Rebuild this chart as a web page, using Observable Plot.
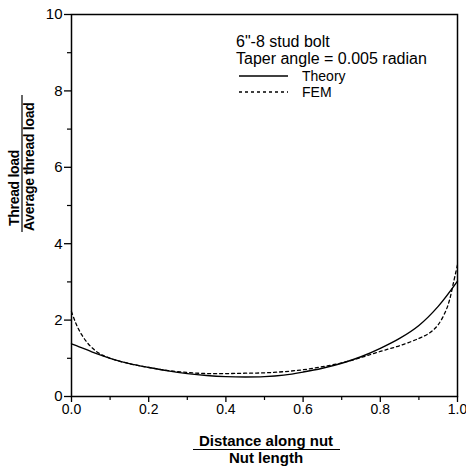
<!DOCTYPE html>
<html><head><meta charset="utf-8">
<script src="https://cdn.jsdelivr.net/npm/d3@7"></script>
<script src="https://cdn.jsdelivr.net/npm/@observablehq/plot@0.6"></script>
<style>body{margin:0;background:#fff}</style>
</head><body><div id="chart"></div>
<script>
// Data
const theoryX = [0, 0.02, 0.05, 0.1, 0.15, 0.2, 0.25, 0.3, 0.35, 0.4, 0.45, 0.5, 0.55, 0.6, 0.65, 0.7, 0.75, 0.8, 0.85, 0.9, 0.95, 1.0];
const theoryY = [1.38, 1.30, 1.18, 1.0, 0.86, 0.76, 0.67, 0.60, 0.55, 0.52, 0.51, 0.52, 0.56, 0.64, 0.74, 0.87, 1.04, 1.26, 1.52, 1.86, 2.36, 3.02];
const femX = [0, 0.01, 0.02, 0.04, 0.067, 0.1, 0.15, 0.2, 0.25, 0.3, 0.35, 0.4, 0.45, 0.5, 0.55, 0.6, 0.65, 0.7, 0.75, 0.8, 0.85, 0.9, 0.93, 0.95, 0.97, 0.98, 0.99, 1.0];
const femY = [2.22, 1.95, 1.73, 1.42, 1.16, 1.0, 0.86, 0.76, 0.68, 0.63, 0.60, 0.60, 0.61, 0.62, 0.65, 0.70, 0.78, 0.88, 1.02, 1.18, 1.33, 1.52, 1.68, 1.88, 2.25, 2.55, 3.0, 3.45];
const xMajor = [0, 0.2, 0.4, 0.6, 0.8, 1.0];
const xMinor = [0.1, 0.3, 0.5, 0.7, 0.9];
const yMajor = [0, 2, 4, 6, 8, 10];
const yMinor = [1, 3, 5, 7, 9];
const legendLines = ['6"-8 stud bolt', 'Taper angle = 0.005 radian'];
const seriesNames = ["Theory", "FEM"];

const theory = theoryX.map((x, i) => ({x, y: theoryY[i]}));
const fem = femX.map((x, i) => ({x, y: femY[i]}));

const FONT = "'Liberation Sans', Arial, Helvetica, sans-serif";
const chart = Plot.plot({
  width: 466, height: 466,
  marginLeft: 71, marginRight: 9, marginTop: 14, marginBottom: 70,
  style: {fontFamily: FONT, fontSize: "15px", color: "#000", background: "#fff", overflow: "visible"},
  x: {domain: [0, 1], label: null},
  y: {domain: [0, 10], label: null},
  marks: [
    Plot.frame({stroke: "#000", strokeWidth: 1.5}),
    Plot.axisX({ticks: xMajor, tickSize: 6, tickPadding: 2, tickFormat: d3.format(".1f"), label: null, strokeWidth: 1.3, fontSize: 14}),
    Plot.axisX({ticks: xMinor, tickSize: 4, tickFormat: () => "", label: null, strokeWidth: 1.2}),
    Plot.axisY({ticks: yMajor, tickSize: 7, tickPadding: 2, tickFormat: d3.format("d"), label: null, strokeWidth: 1.3}),
    Plot.axisY({ticks: yMinor, tickSize: 4, tickFormat: () => "", label: null, strokeWidth: 1.2}),
    Plot.line(theory, {x: "x", y: "y", curve: "catmull-rom", stroke: "#000", strokeWidth: 1.4}),
    Plot.line(fem, {x: "x", y: "y", curve: "catmull-rom", stroke: "#000", strokeWidth: 1.3, strokeDasharray: "3,3"})
  ]
});
document.getElementById("chart").appendChild(chart);

// Annotations: legend and fraction-style axis titles
const svg = d3.select(chart);
const g = svg.append("g").attr("font-family", FONT).attr("fill", "#000").attr("text-anchor", "start");
g.selectAll("text.hdr").data(legendLines).join("text")
  .attr("x", 236).attr("y", (d, i) => 47 + i * 17)
  .attr("font-size", 16).attr("text-anchor", "start").text(d => d);
seriesNames.forEach((name, i) => {
  const yy = 76 + i * 16;
  g.append("line").attr("x1", 239).attr("x2", 288).attr("y1", yy).attr("y2", yy)
    .attr("stroke", "#000").attr("stroke-width", 1.3)
    .attr("stroke-dasharray", i === 1 ? "3,3" : null);
  g.append("text").attr("x", 302).attr("y", yy + 5).attr("font-size", 14).attr("text-anchor", "start").text(name);
});

// X title
const cx = 266;
g.append("text").attr("x", cx).attr("y", 446).attr("text-anchor", "middle")
  .attr("font-size", 15).attr("font-weight", "bold").attr("letter-spacing", 0).text("Distance along nut");
g.append("line").attr("x1", 193).attr("x2", 340).attr("y1", 449.5).attr("y2", 449.5).attr("stroke", "#000").attr("stroke-width", 1.2);
g.append("text").attr("x", cx).attr("y", 463).attr("text-anchor", "middle")
  .attr("font-size", 15).attr("font-weight", "bold").attr("letter-spacing", 0).text("Nut length");

// Y title
g.append("text").attr("transform", "translate(19,226) rotate(-90)").attr("text-anchor", "start")
  .attr("font-size", 14).attr("font-weight", "bold").attr("letter-spacing", -0.3).text("Thread load");
g.append("line").attr("x1", 22).attr("x2", 22).attr("y1", 95).attr("y2", 232).attr("stroke", "#000").attr("stroke-width", 1.2);
g.append("text").attr("transform", "translate(34,231) rotate(-90)").attr("text-anchor", "start")
  .attr("font-size", 14).attr("font-weight", "bold").attr("letter-spacing", -0.3).text("Average thread load");
</script>
</body></html>
